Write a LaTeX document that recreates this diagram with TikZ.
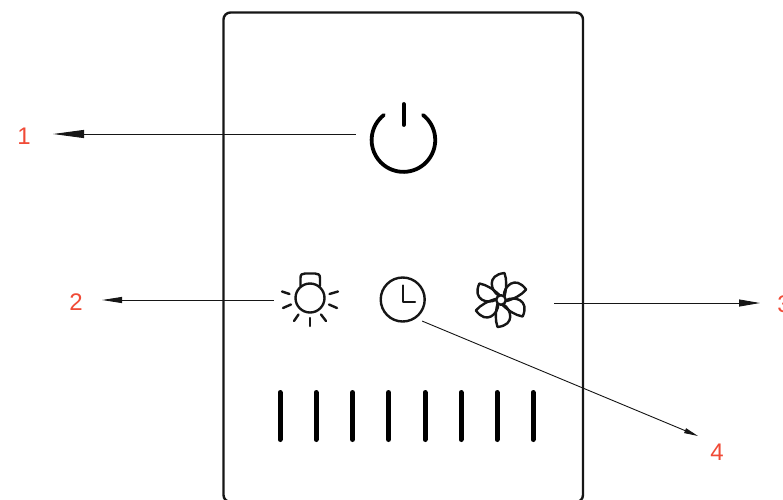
\documentclass[tikz,border=0pt]{standalone}
\usepackage{fontspec}
\setmainfont{Liberation Sans}
\usetikzlibrary{arrows.meta}
\definecolor{lab}{HTML}{F04A36}
\definecolor{ink}{HTML}{161616}
\tikzset{
  px/.style={x=1pt,y=-1pt},
  icon/.style={draw=ink,line width=2.4pt,line cap=round,line join=round},
  bigicon/.style={draw=black,line width=3.8pt,line cap=round},
  lead/.style={draw=ink,line width=0.9pt},
  numlabel/.style={text=lab,font=\fontsize{24}{24}\selectfont,inner sep=0pt},
  bar/.style={draw=black,line width=5pt,line cap=round},
  anchorpt/.style={inner sep=0pt,minimum size=0pt},
}
\begin{document}
\begin{tikzpicture}[px]
\useasboundingbox (0,0) rectangle (783,499);
\clip (0,0) rectangle (783,499);
% panel
\draw[draw=ink,line width=2.4pt,rounded corners=7pt] (223.5,12.5) rectangle (583,502);
% power icon
\draw[bigicon] (423,115) arc[start angle=-52,end angle=232,radius=31.8];
\draw[bigicon] (403.8,104) -- (403.8,125);
\node[anchorpt] (power) at (356,134) {};
% bulb
\node[anchorpt] (bulb) at (274,300) {};
\draw[icon] (310,298) circle[radius=14.5];
\draw[icon] (300.5,286) -- (300.5,278) .. controls (300.5,274.5) and (302,273.5) .. (305,273.5) -- (315,273.5) .. controls (318,273.5) and (320,274.5) .. (320,278) -- (320,286);
\draw[icon] (282,291.5) -- (289.5,294);
\draw[icon] (338,291.5) -- (329.5,294);
\draw[icon] (283,308) -- (291,304.5);
\draw[icon] (337,308) -- (329,304.5);
\draw[icon] (294,321) -- (298.5,314.5);
\draw[icon] (326,321) -- (321,314.5);
\draw[icon] (310,326) -- (310,318);
% clock
\node[anchorpt] (clock) at (422,321) {};
\draw[icon] (402.7,299.5) circle[radius=22];
\draw[icon] (403,285.5) -- (403,302) -- (415,302);
% fan
\node[anchorpt] (fan) at (554,303) {};
\begin{scope}[shift={(501,300)}]
  \draw[icon] (0,0) circle[radius=4.8];
  \foreach \a in {0,60,...,300}{
    \draw[icon,rotate=\a] (-2.5,-4.6) .. controls (-10,-9) and (-15,-25) .. (3.5,-27) .. controls (6,-20) and (5.5,-12) .. (3.6,-4);
  }
\end{scope}
% level bars
\foreach \x in {280,316,352.5,388.5,425,461,497,533}
  \draw[bar] (\x,392.5) -- (\x,439.5);
% labels
\node[numlabel] (n1) at (24,136) {1};
\node[numlabel] (n2) at (76,302) {2};
\node[numlabel] (n3) at (784,304) {3};
\node[numlabel] (n4) at (717,452) {4};
% targets
\coordinate (t1) at (53,134);
\coordinate (t2) at (102,300);
\coordinate (t3) at (760,303);
\coordinate (t4) at (698,436);
% leaders
\draw[lead,-{Triangle[length=31pt,width=8pt]}] (power) -- (t1);
\draw[lead,-{Triangle[length=20pt,width=6pt]}] (bulb) -- (t2);
\draw[lead,-{Triangle[length=21pt,width=7pt]}] (fan) -- (t3);
\draw[lead,-{Triangle[length=14pt,width=5pt]}] (clock) -- (t4);
\end{tikzpicture}
\end{document}
